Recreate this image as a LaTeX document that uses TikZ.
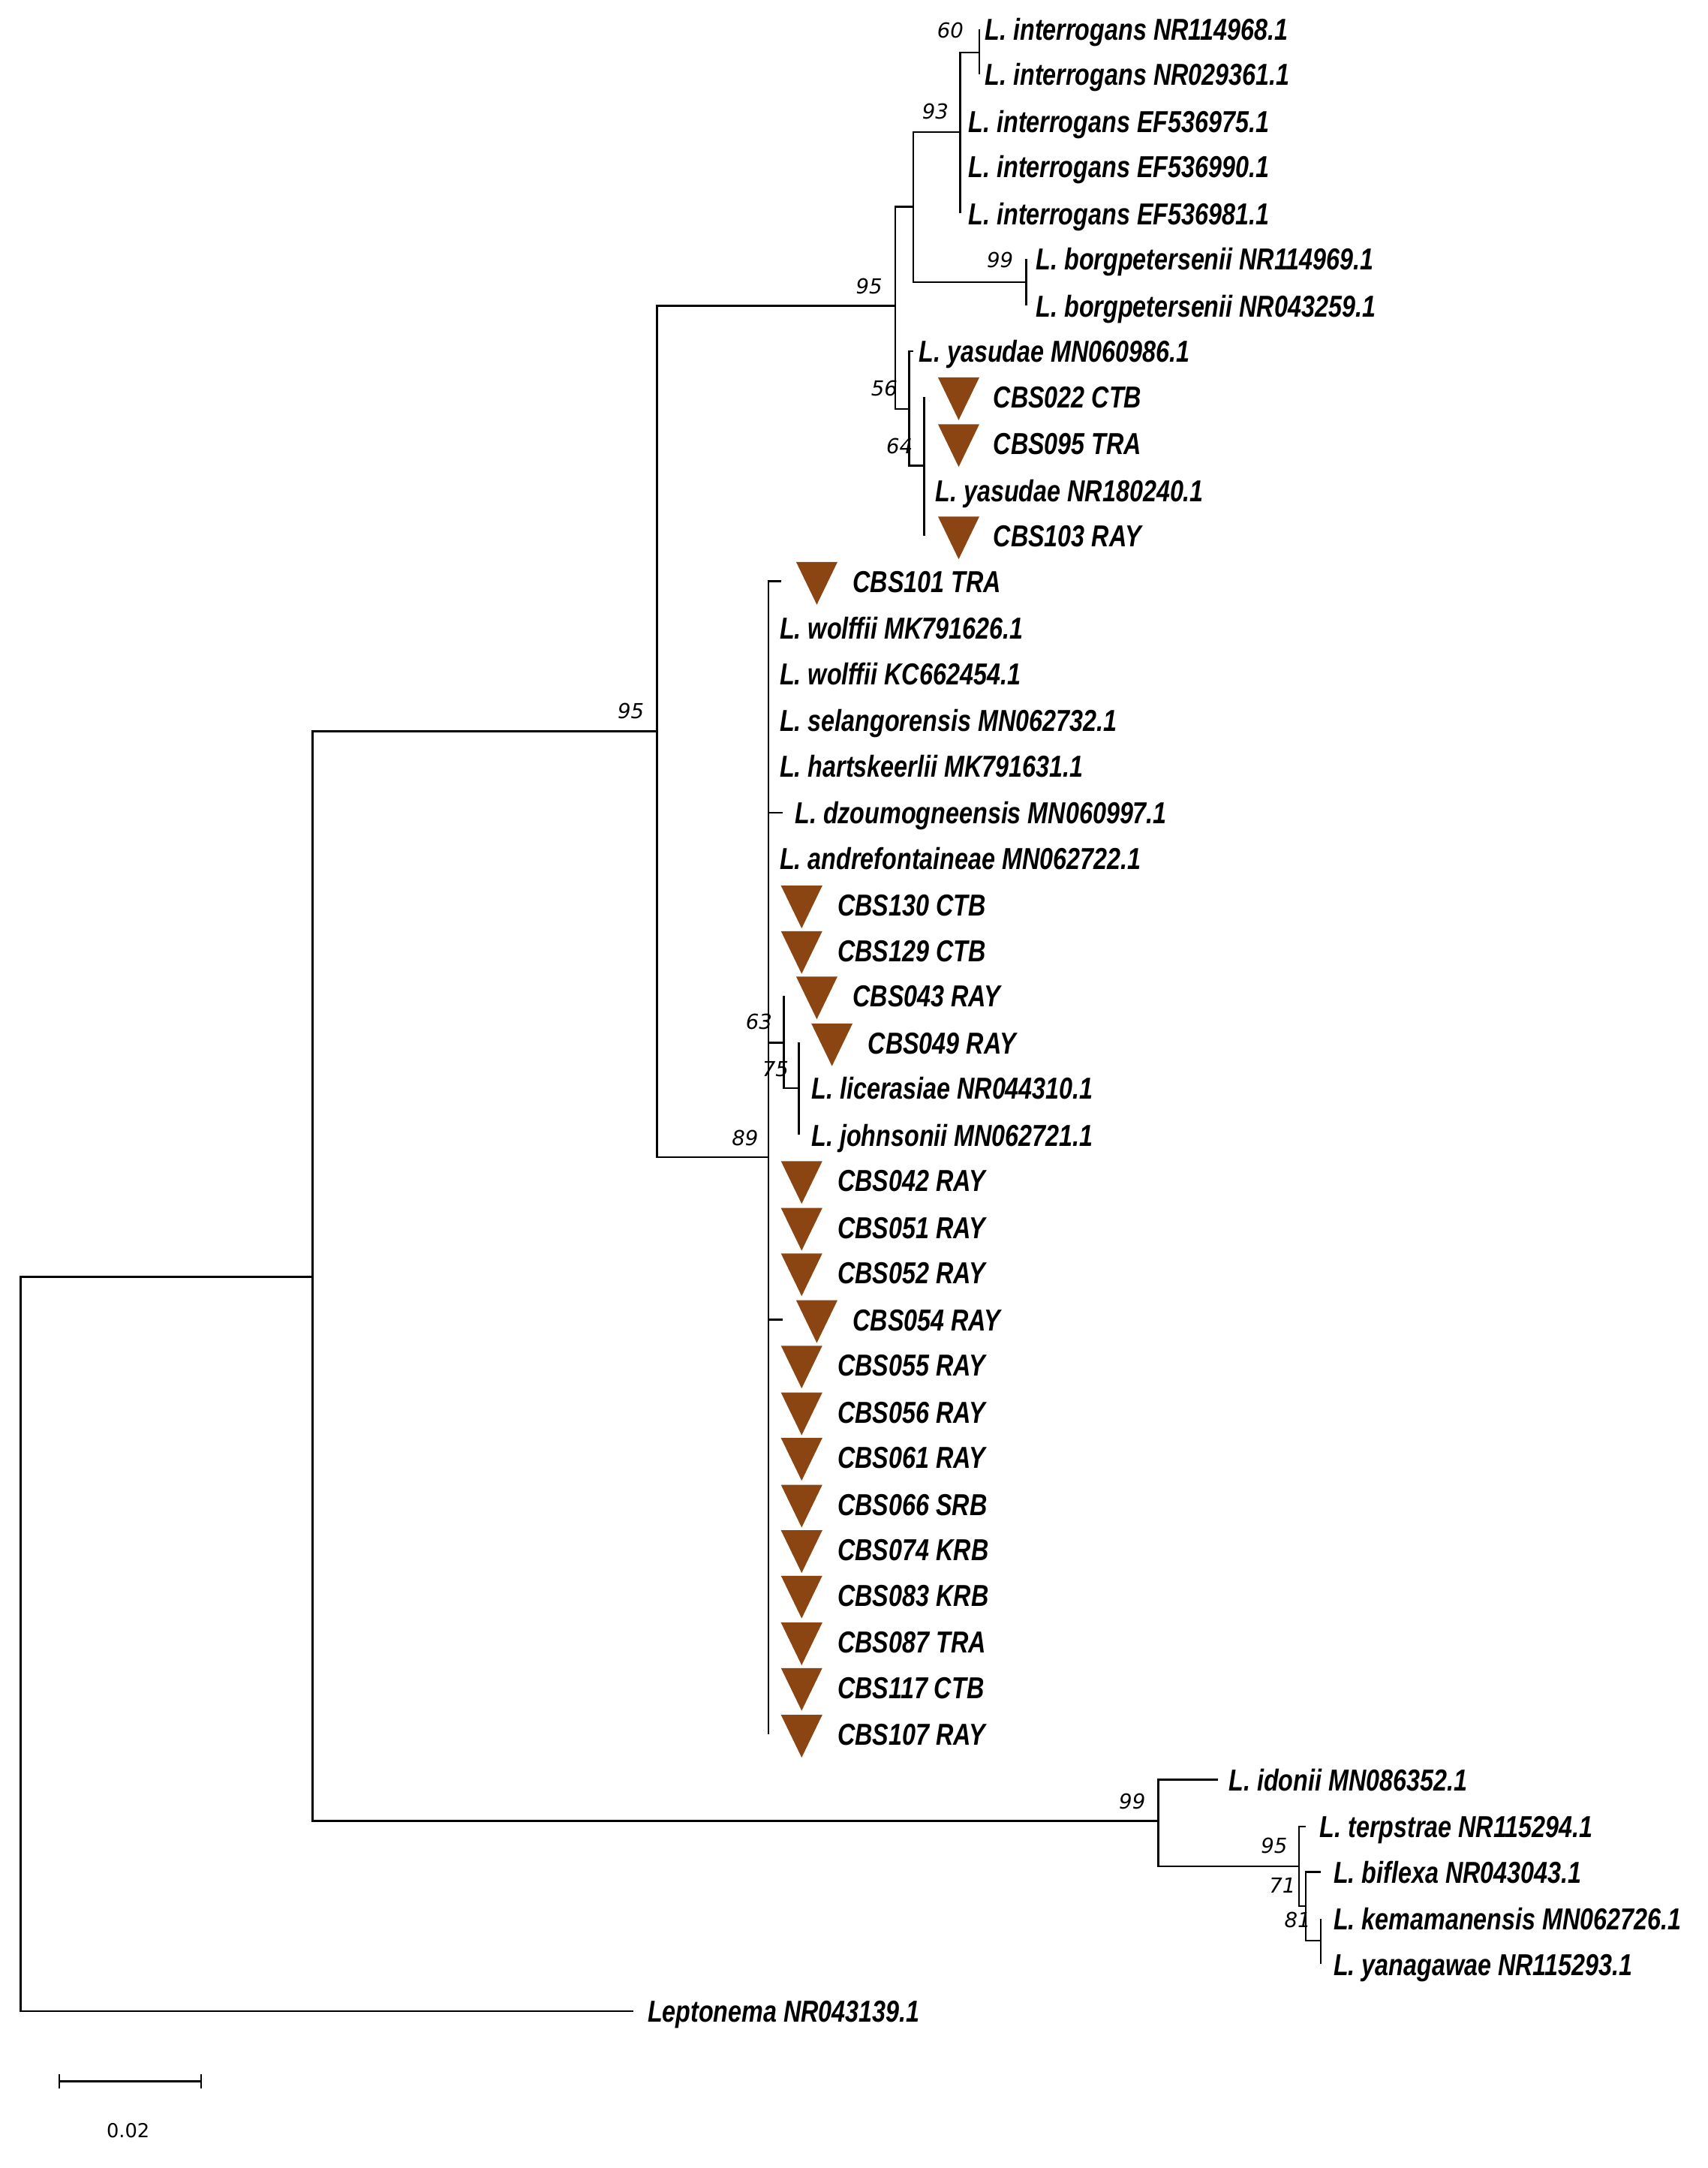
\documentclass[tikz,border=0pt]{standalone}
\usepackage{fontspec}
\newfontfamily\leaffont{Liberation Sans}[FakeStretch=0.8]
\newfontfamily\bsfont{DejaVu Sans}
\definecolor{tribrown}{RGB}{139,69,19}
\tikzset{
  br/.style={line width=1.3pt},
  lf/.style={anchor=base west, inner sep=0pt, font=\leaffont\bfseries\itshape\fontsize{22}{22}\selectfont},
  bs/.style={inner sep=0pt, font=\bsfont\itshape\fontsize{15}{15}\selectfont},
}
\newcommand{\tri}[2]{\fill[tribrown] (#1-15,#2-14) -- (#1+15,#2-14) -- (#1,#2+17) -- cycle;}
\begin{document}
\begin{tikzpicture}[x=1pt,y=-1pt]
\useasboundingbox (0,0) rectangle (1240,1574);
% joints
\coordinate (root) at (15,1193);
\coordinate (A) at (227,927);
\coordinate (U95) at (477,531);
\coordinate (X) at (650,222);
\coordinate (N1) at (663,150);
\coordinate (N93) at (697,96);
\coordinate (N60) at (711,38);
\coordinate (NB) at (745,205);
\coordinate (N56) at (660,297);
\coordinate (N64) at (671,338);
\coordinate (N89) at (558,840);
\coordinate (N63) at (569,757);
\coordinate (N75) at (580,790);
\coordinate (N99) at (841,1322);
\coordinate (C95) at (943,1355);
\coordinate (N71) at (948,1384);
\coordinate (N81) at (959,1409);
% tips
\coordinate (t1) at (711,21);
\coordinate (t2) at (711,54);
\coordinate (t3) at (697,88);
\coordinate (t4) at (697,121);
\coordinate (t5) at (697,155);
\coordinate (t6) at (745,188);
\coordinate (t7) at (745,222);
\coordinate (t8) at (663,255);
\coordinate (t9) at (671,288);
\coordinate (t10) at (671,322);
\coordinate (t11) at (671,356);
\coordinate (t12) at (671,389);
\coordinate (t13) at (567,422);
\foreach \i/\y in {14/456,15/489,16/523,17/556,19/623,20/657,21/690,26/857,27/891,28/924,30/991,31/1025,32/1058,33/1092,34/1125,35/1158,36/1192,37/1225,38/1259}
  \coordinate (t\i) at (558,\y);
\coordinate (t18) at (568,590);
\coordinate (t29) at (568,958);
\coordinate (t22) at (569,723);
\coordinate (t23) at (580,757);
\coordinate (t24) at (580,790);
\coordinate (t25) at (580,824);
\coordinate (t39) at (884,1292);
\coordinate (t40) at (948,1326);
\coordinate (t41) at (959,1359);
\coordinate (t42) at (959,1393);
\coordinate (t43) at (959,1426);
\coordinate (t44) at (460,1460);
% branches
\draw[br] (root) |- (A) (root) |- (t44);
\draw[br] (A) |- (U95) (A) |- (N99);
\draw[br] (U95) |- (X) (U95) |- (N89);
\draw[br] (X) |- (N1) (X) |- (N56);
\draw[br] (N1) |- (N93) (N1) |- (NB);
\draw[br] (N93) |- (N60) (N93) |- (t3) (N93) |- (t4) (N93) |- (t5);
\draw[br] (N60) |- (t1) (N60) |- (t2);
\draw[br] (NB) |- (t6) (NB) |- (t7);
\draw[br] (N56) |- (t8) (N56) |- (N64);
\draw[br] (N64) |- (t9) (N64) |- (t12);
\draw[br] (N89) |- (t13) (N89) |- (t38) (N89) |- (t18) (N89) |- (t29) (N89) |- (N63);
\draw[br] (N63) |- (t22) (N63) |- (N75);
\draw[br] (N75) |- (t23) (N75) |- (t25);
\draw[br] (N99) |- (t39) (N99) |- (C95);
\draw[br] (C95) |- (t40) (C95) |- (N71);
\draw[br] (N71) |- (t41) (N71) |- (N81);
\draw[br] (N81) |- (t42) (N81) |- (t43);
% triangles
\foreach \x/\y in {696/288,696/322,696/389,593/422,582/657,582/690,593/723,604/757,582/857,582/891,582/924,593/958,582/991,582/1025,582/1058,582/1092,582/1125,582/1158,582/1192,582/1225,582/1259}
  {\tri{\x}{\y}}
% labels
\node[lf] (l1) at (715,29) {L. interrogans NR114968.1};
\node[lf] (l2) at (715,62) {L. interrogans NR029361.1};
\node[lf] (l3) at (703,96) {L. interrogans EF536975.1};
\node[lf] (l4) at (703,129) {L. interrogans EF536990.1};
\node[lf] (l5) at (703,163) {L. interrogans EF536981.1};
\node[lf] (l6) at (752,196) {L. borgpetersenii NR114969.1};
\node[lf] (l7) at (752,230) {L. borgpetersenii NR043259.1};
\node[lf] (l8) at (667,263) {L. yasudae MN060986.1};
\node[lf] (l9) at (721,296) {CBS022 CTB};
\node[lf] (l10) at (721,330) {CBS095 TRA};
\node[lf] (l11) at (679,364) {L. yasudae NR180240.1};
\node[lf] (l12) at (721,397) {CBS103 RAY};
\node[lf] (l13) at (619,430) {CBS101 TRA};
\node[lf] (l14) at (566,464) {L. wolffii MK791626.1};
\node[lf] (l15) at (566,497) {L. wolffii KC662454.1};
\node[lf] (l16) at (566,531) {L. selangorensis MN062732.1};
\node[lf] (l17) at (566,564) {L. hartskeerlii MK791631.1};
\node[lf] (l18) at (577,598) {L. dzoumogneensis MN060997.1};
\node[lf] (l19) at (566,631) {L. andrefontaineae MN062722.1};
\node[lf] (l20) at (608,665) {CBS130 CTB};
\node[lf] (l21) at (608,698) {CBS129 CTB};
\node[lf] (l22) at (619,731) {CBS043 RAY};
\node[lf] (l23) at (630,765) {CBS049 RAY};
\node[lf] (l24) at (589,798) {L. licerasiae NR044310.1};
\node[lf] (l25) at (589,832) {L. johnsonii MN062721.1};
\node[lf] (l26) at (608,865) {CBS042 RAY};
\node[lf] (l27) at (608,899) {CBS051 RAY};
\node[lf] (l28) at (608,932) {CBS052 RAY};
\node[lf] (l29) at (619,966) {CBS054 RAY};
\node[lf] (l30) at (608,999) {CBS055 RAY};
\node[lf] (l31) at (608,1033) {CBS056 RAY};
\node[lf] (l32) at (608,1066) {CBS061 RAY};
\node[lf] (l33) at (608,1100) {CBS066 SRB};
\node[lf] (l34) at (608,1133) {CBS074 KRB};
\node[lf] (l35) at (608,1166) {CBS083 KRB};
\node[lf] (l36) at (608,1200) {CBS087 TRA};
\node[lf] (l37) at (608,1233) {CBS117 CTB};
\node[lf] (l38) at (608,1267) {CBS107 RAY};
\node[lf] (l39) at (892,1300) {L. idonii MN086352.1};
\node[lf] (l40) at (958,1334) {L. terpstrae NR115294.1};
\node[lf] (l41) at (968,1367) {L. biflexa NR043043.1};
\node[lf] (l42) at (968,1401) {L. kemamanensis MN062726.1};
\node[lf] (l43) at (968,1434) {L. yanagawae NR115293.1};
\node[lf] (l44) at (470,1468) {Leptonema NR043139.1};
% bootstrap values
\node[bs] (b60) at (690,22) {60};
\node[bs] (b93) at (679,81) {93};
\node[bs] (b99a) at (726,189) {99};
\node[bs] (b95a) at (631,208) {95};
\node[bs] (b56) at (642,282) {56};
\node[bs] (b64) at (653,324) {64};
\node[bs] (b95b) at (458,516) {95};
\node[bs] (b63) at (551,742) {63};
\node[bs] (b75) at (563,776) {75};
\node[bs] (b89) at (541,826) {89};
\node[bs] (b99b) at (822,1308) {99};
\node[bs] (b95c) at (925,1340) {95};
\node[bs] (b71) at (931,1369) {71};
\node[bs] (b81) at (942,1394) {81};
% scale bar
\coordinate (s1) at (43,1511);
\coordinate (s2) at (146,1511);
\draw[line width=1.2pt] (s1) -- (s2);
\draw[line width=1.2pt] ([yshift=-5pt]s1) -- ([yshift=5pt]s1);
\draw[line width=1.2pt] ([yshift=-5pt]s2) -- ([yshift=5pt]s2);
\node[inner sep=0pt, font=\bsfont\fontsize{14}{14}\selectfont] (sl) at (93,1547) {0.02};
\end{tikzpicture}
\end{document}
